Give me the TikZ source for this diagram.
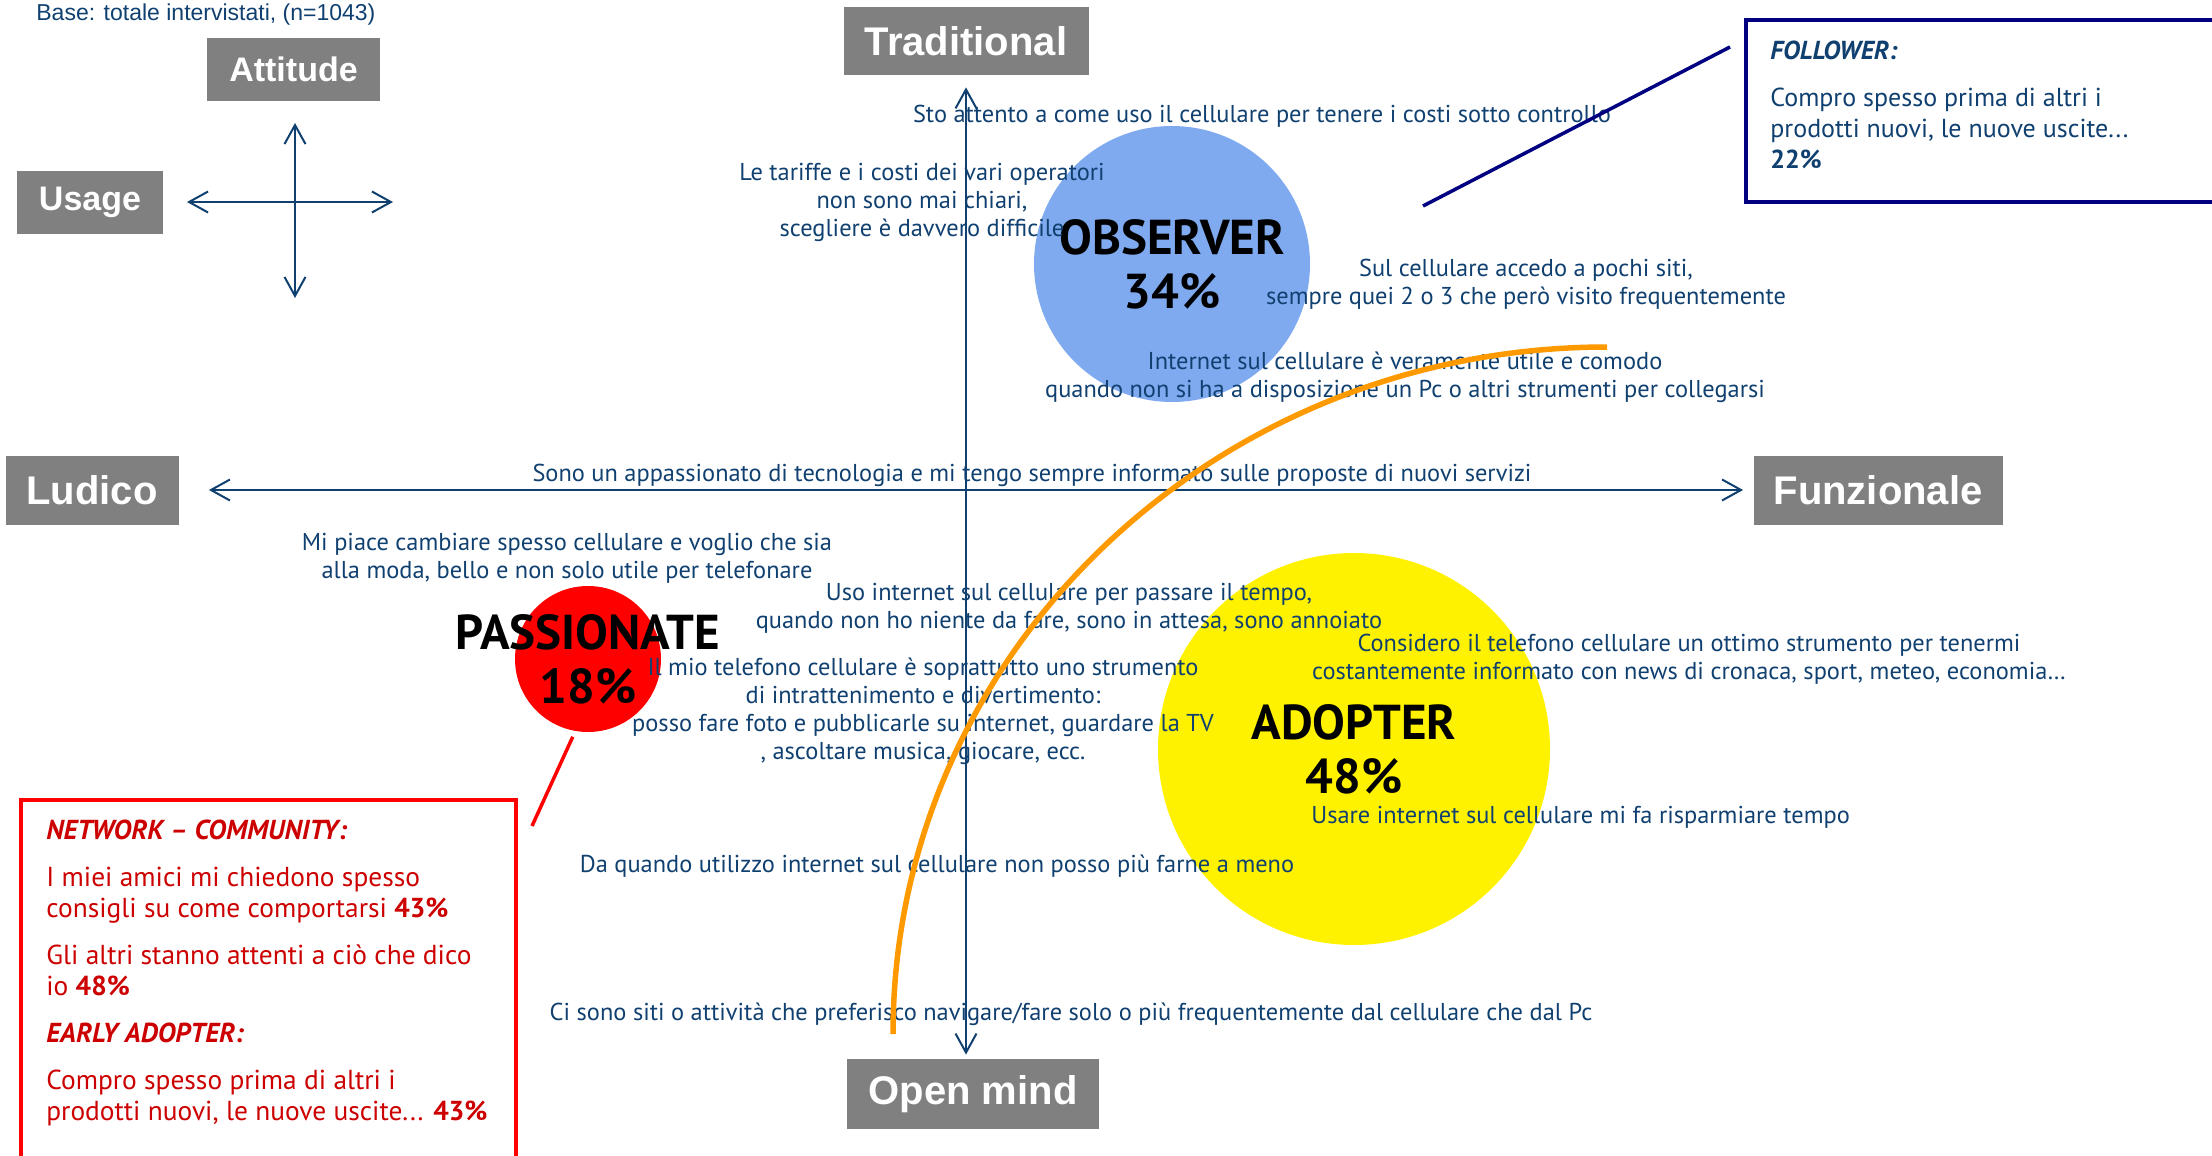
\documentclass[tikz,border=0pt]{standalone}
\usepackage{fontspec}
\setmainfont{PT Sans}
\newfontfamily\arialfont{Liberation Sans}
\usetikzlibrary{arrows.meta}
\definecolor{quoteblue}{RGB}{16,64,112}
\definecolor{boxgray}{RGB}{128,128,128}
\definecolor{obsblue}{RGB}{128,170,240}
\definecolor{arcorange}{RGB}{255,153,0}
\definecolor{netred}{RGB}{204,0,0}
\definecolor{follownavy}{RGB}{0,0,128}
\begin{document}
\begin{tikzpicture}[x=0.5pt, y=-0.5pt,
	graybox/.style={fill=boxgray, text=white, inner sep=0pt, font=\arialfont\bfseries\fontsize{20}{24}\selectfont},
	smallgray/.style={graybox, font=\arialfont\bfseries\fontsize{17}{20}\selectfont},
	quote/.style={text=quoteblue, inner sep=0pt, align=center, font=\fontsize{12.2}{14}\selectfont},
	blob/.style={circle, inner sep=0pt},
	bigname/.style={inner sep=0pt, align=center, font=\bfseries\fontsize{24.5}{27}\selectfont},
	boxtext/.style={inner sep=0pt, align=left, anchor=north west, font=\fontsize{12.5}{15.5}\selectfont},
	axisline/.style={quoteblue, line width=1pt},
	>={Straight Barb[length=9.5pt, width=10.5pt]}]
	\useasboundingbox (0,0) rectangle (2212,1156);
	\clip (0,0) rectangle (2212,1156);

	\node[blob, fill=obsblue, minimum size=138pt] (obscircle) at (1172,264) {};
	\node[blob, fill=red, minimum size=73pt] (passcircle) at (588,659) {};
	\node[blob, fill=yellow, minimum size=196pt] (adoptcircle) at (1354,749) {};

	\node[anchor=west, inner sep=0pt, text=quoteblue, font=\arialfont\fontsize{11.5}{14}\selectfont] (base) at (36,15) {Base: totale intervistati, (n=1043)};
	\node[smallgray, minimum width=86.5pt, minimum height=31.5pt] (attitude) at (293.5,69.5) {Attitude};
	\node[smallgray, minimum width=73pt, minimum height=31.5pt] (usage) at (90,202.5) {Usage};
	\draw[axisline, <->] (187,202) -- (393,202);
	\draw[axisline, <->] (295,123) -- (295,298);

	\node[graybox, minimum width=122.5pt, minimum height=34pt] (trad) at (966,41) {Traditional};
	\node[graybox, minimum width=126pt, minimum height=35pt] (open) at (973,1094) {Open mind};
	\node[graybox, minimum width=86.5pt, minimum height=34.5pt] (ludico) at (92,490) {Ludico};
	\node[graybox, minimum width=124.5pt, minimum height=34.5pt] (funz) at (1878,490) {Funzionale};
	\draw[axisline, <->, shorten <=6pt, shorten >=2pt] (trad.south) -- (trad.south |- open.north);
	\draw[axisline, <->, shorten <=15pt, shorten >=5pt] (ludico.east) -- (funz.west);

	\node[bigname] (observer) at (obscircle) {OBSERVER\\34\%};
	\node[bigname] (passionate) at (passcircle) {PASSIONATE\\18\%};
	\node[bigname] (adopter) at (adoptcircle) {ADOPTER\\48\%};

	\node[quote] (costi) at (1262,116) {Sto attento a come uso il cellulare per tenere i costi sotto controllo};
	\node[quote] (tariffe) at (922,202) {Le tariffe e i costi dei vari operatori\\non sono mai chiari,\\scegliere è davvero difficile};
	\node[quote] (siti) at (1526,284) {Sul cellulare accedo a pochi siti,\\sempre quei 2 o 3 che però visito frequentemente};
	\node[quote] (utile) at (1405,377) {Internet sul cellulare è veramente utile e comodo\\quando non si ha a disposizione un Pc o altri strumenti per collegarsi};
	\node[quote] (tecno) at (1032,475) {Sono un appassionato di tecnologia e mi tengo sempre informato sulle proposte di nuovi servizi};
	\node[quote] (moda) at (567,558) {Mi piace cambiare spesso cellulare e voglio che sia\\alla moda, bello e non solo utile per telefonare};
	\node[quote] (tempo) at (1069,608) {Uso internet sul cellulare per passare il tempo,\\quando non ho niente da fare, sono in attesa, sono annoiato};
	\node[quote] (svago) at (923,711) {Il mio telefono cellulare è soprattutto uno strumento\\di intrattenimento e divertimento:\\posso fare foto e pubblicarle su internet, guardare la TV\\, ascoltare musica, giocare, ecc.};
	\node[quote] (news) at (1689,659) {Considero il telefono cellulare un ottimo strumento per tenermi\\costantemente informato con news di cronaca, sport, meteo, economia…};
	\node[quote, anchor=west] (risparmio) at (1311,817) {Usare internet sul cellulare mi fa risparmiare tempo};
	\node[quote] (senza) at (937,866) {Da quando utilizzo internet sul cellulare non posso più farne a meno};
	\node[quote] (preferisco) at (1071,1014) {Ci sono siti o attività che preferisco navigare/fare solo o più frequentemente dal cellulare che dal Pc};

	\coordinate (netend) at (532,826);
	\draw[red, line width=1.75pt, shorten <=3pt] (passcircle.-100) -- (netend);
	\draw[red, line width=2pt] (21,800) rectangle (516,1170);
	\node[boxtext, text=netred, font=\fontsize{13.7}{15.5}\selectfont] (network) at (46,820) {{\bfseries\itshape NETWORK – COMMUNITY:}\\[8pt]
		I miei amici mi chiedono spesso\\consigli su come comportarsi \textbf{43\%}\\[8pt]
		Gli altri stanno attenti a ciò che dico\\io \textbf{48\%}\\[8pt]
		{\bfseries\itshape EARLY ADOPTER:}\\[8pt]
		Compro spesso prima di altri i\\prodotti nuovi, le nuove uscite... \textbf{43\%}};

	\coordinate (folstart) at (1423,206);
	\coordinate (folend) at (1730,47);
	\draw[follownavy, line width=1.75pt] (folstart) -- (folend);
	\draw[follownavy, line width=2pt] (1746,20) rectangle (2240,202);
	\node[boxtext, text=quoteblue, font=\fontsize{13}{15.5}\selectfont] (follower) at (1770,41) {{\bfseries\itshape FOLLOWER:}\\[8pt]
		Compro spesso prima di altri i\\prodotti nuovi, le nuove uscite...\\\textbf{22\%}};

	\draw[arcorange, line width=2.75pt] (893,1034) arc[start angle=180, end angle=90, x radius=357pt, y radius=343.5pt];
\end{tikzpicture}
\end{document}
